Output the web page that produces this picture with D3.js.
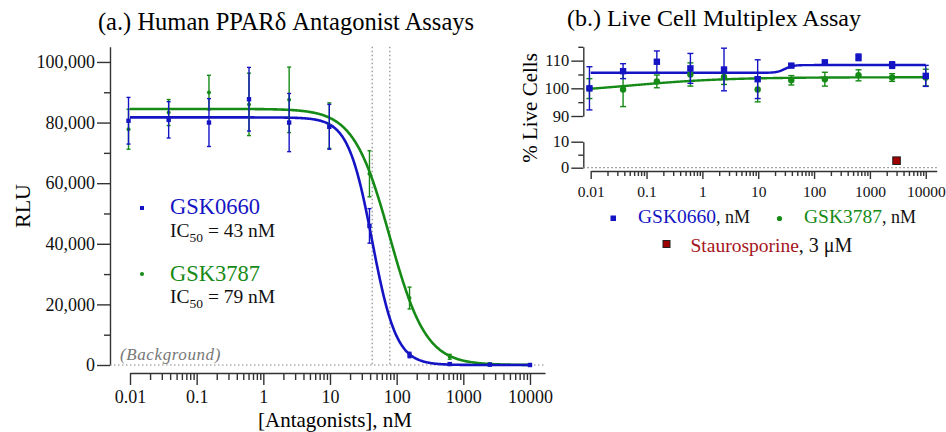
<!DOCTYPE html>
<html>
<head>
<meta charset="utf-8">
<script src="https://cdn.jsdelivr.net/npm/d3@7"></script>
<style>
  body { margin: 0; background: #fff; }
  svg text { font-family: "Liberation Serif", "Times New Roman", Times, serif !important; }
  .axis path, .axis line { stroke: #333; stroke-width: 1.4; }
  .axis text { fill: #111; }
</style>
</head>
<body>
<svg id="chart" width="946" height="432" font-family="Liberation Serif, serif"></svg>
<script>
// concentrations in nM (4-fold dilution series)
const conc = [0.0095, 0.038, 0.153, 0.61, 2.44, 9.77, 39.1, 156, 625, 2500, 10000];

// panel a: luciferase signal (RLU), mean and error
const rlu0660 = [80600, 80900, 80000, 87700, 80000, 78600, 45900, 3300, 300, 100, 0];
const rlu0660Err = [7700, 6000, 7900, 10500, 9600, 7400, 5700, 900, 300, 200, 200];
const rlu3787 = [77800, 83300, 89900, 86000, 87500, 79000, 63100, 22100, 2700, 300, 100];
const rlu3787Err = [6600, 4300, 5700, 10300, 10800, 7500, 7600, 3600, 800, 300, 200];

// fit params: [top, bottom, IC50, hill]
const fit0660 = [81700, 0, 43, 2.4];
const fit3787 = [84500, 0, 79, 1.6];
const ic50Lines = [43, 79];

// panel b: % live cells
const live0660 = [100.0, 106.2, 109.6, 107.2, 106.8, 103.3, 108.2, 109.4, 111.2, 108.4, 104.5];
const live0660Err = [7.8, 2.7, 3.9, 5.4, 7.7, 7.0, 0.5, 0.5, 1.2, 1.2, 3.8];
const live3787 = [99.9, 99.6, 102.5, 105.0, 104.1, 99.6, 102.9, 103.3, 104.7, 103.9, 103.9];
const live3787Err = [3.6, 6.2, 2.3, 4.2, 2.7, 4.5, 1.7, 2.5, 2.0, 1.4, 3.0];
const liveFit0660 = [105.6, 108.4, 30, 6];   // [bottom, top, EC50, hill]
const liveFit3787 = [98, 104, 0.05, 0.5];
const stauroConc = 3000, stauroLive = 2.7;

const xTicks = [0.01, 0.1, 1, 10, 100, 1000, 10000];
const xTickLabels = ["0.01", "0.1", "1", "10", "100", "1000", "10000"];
const yTicksA = [0, 20000, 40000, 60000, 80000, 100000];
const yMinorA = [10000, 30000, 50000, 70000, 90000];

const blue = "#1414c4", green = "#168a16", red = "#a5141c";

const minorX = [];
xTicks.slice(0, -1).forEach(d => { for (let k = 2; k < 10; k++) minorX.push(d * k); });

const svg = d3.select("#chart");

// ---------- panel a ----------
const x = d3.scaleLog().domain([0.01, 16800]).range([130, 545]);
const y = d3.scaleLinear().domain([0, 105000]).range([365, 46.8]);

function inhib(p) { return c => p[1] + (p[0] - p[1]) / (1 + Math.pow(c / p[2], p[3])); }
function stim(p) { return c => p[0] + (p[1] - p[0]) / (1 + Math.pow(p[2] / c, p[3])); }
const xs = d3.range(0, 601).map(i => Math.pow(10, -2 + i * 6 / 600));

svg.append("text").attr("x", 286).attr("y", 30).attr("text-anchor", "middle")
  .style("font-size", "24.5px").text("(a.) Human PPARδ Antagonist Assays");

// y axis
svg.append("g").attr("class", "axis").attr("transform", "translate(110,0)")
  .call(d3.axisLeft(y).tickValues(yTicksA).tickSize(13).tickSizeOuter(0).tickPadding(2)
    .tickFormat(d3.format(",")))
  .selectAll("text").style("font-size", "18px");
svg.append("g").attr("class", "axis").attr("transform", "translate(110,0)")
  .call(d3.axisLeft(y).tickValues(yMinorA).tickSize(6).tickFormat(""))
  .select(".domain").remove();

// x axis
svg.append("g").attr("class", "axis").attr("transform", "translate(0,373)")
  .call(d3.axisBottom(x).tickValues(xTicks).tickSize(12).tickSizeOuter(0).tickPadding(5)
    .tickFormat((d, i) => xTickLabels[i]))
  .selectAll("text").style("font-size", "18px");
svg.append("g").attr("class", "axis").attr("transform", "translate(0,373)")
  .call(d3.axisBottom(x).tickValues(minorX).tickSize(7).tickFormat(""))
  .select(".domain").remove();

svg.append("text").attr("transform", "translate(30,206) rotate(-90)").attr("text-anchor", "middle")
  .style("font-size", "22px").text("RLU");
svg.append("text").attr("x", 335).attr("y", 427).attr("text-anchor", "middle")
  .style("font-size", "21px").text("[Antagonists], nM");

// background & IC50 guide lines
svg.append("line").attr("x1", 110).attr("x2", x.range()[1]).attr("y1", y(0)).attr("y2", y(0))
  .attr("stroke", "#888").attr("stroke-width", 1.2).attr("stroke-dasharray", "1.5,2.5");
svg.append("text").attr("x", 120).attr("y", 360).style("font-size", "17px")
  .style("font-style", "italic").attr("fill", "#777").attr("letter-spacing", "0.6px").text("(Background)");
svg.selectAll(".ic50").data(ic50Lines).enter().append("line")
  .attr("x1", d => x(d)).attr("x2", d => x(d)).attr("y1", y(105000)).attr("y2", y(0))
  .attr("stroke", "#888").attr("stroke-width", 1.2).attr("stroke-dasharray", "1.5,2.5");

const lineA = f => d3.line().x(d => x(d)).y(d => y(f(d)));
svg.append("path").attr("d", lineA(inhib(fit3787))(xs)).attr("fill", "none")
  .attr("stroke", green).attr("stroke-width", 2.6);
svg.append("path").attr("d", lineA(inhib(fit0660))(xs)).attr("fill", "none")
  .attr("stroke", blue).attr("stroke-width", 2.6);

function errBars(g, xsc, ysc, means, errs, color, cap, sw) {
  const grp = g.append("g").attr("stroke", color).attr("stroke-width", sw);
  conc.forEach((c, i) => {
    const cx = xsc(c), top = ysc(means[i] + errs[i]), bot = ysc(means[i] - errs[i]);
    grp.append("line").attr("x1", cx).attr("x2", cx).attr("y1", top).attr("y2", bot);
    grp.append("line").attr("x1", cx - cap).attr("x2", cx + cap).attr("y1", top).attr("y2", top);
    grp.append("line").attr("x1", cx - cap).attr("x2", cx + cap).attr("y1", bot).attr("y2", bot);
  });
}

errBars(svg, x, y, rlu3787, rlu3787Err, green, 2, 1.4);
svg.selectAll(".ptA3787").data(rlu3787).enter().append("circle")
  .attr("cx", (d, i) => x(conc[i])).attr("cy", d => y(d)).attr("r", 2).attr("fill", green);
errBars(svg, x, y, rlu0660, rlu0660Err, blue, 2, 1.4);
svg.selectAll(".ptA0660").data(rlu0660).enter().append("rect")
  .attr("x", (d, i) => x(conc[i]) - 2.2).attr("y", d => y(d) - 2.2)
  .attr("width", 4.4).attr("height", 4.4).attr("fill", blue);

// legend a
svg.append("rect").attr("x", 140).attr("y", 206).attr("width", 4).attr("height", 4).attr("fill", blue);
svg.append("text").attr("x", 170).attr("y", 214).style("font-size", "22.5px").attr("fill", blue).text("GSK0660");
svg.append("circle").attr("cx", 142).attr("cy", 274).attr("r", 2).attr("fill", green);
svg.append("text").attr("x", 170).attr("y", 281).style("font-size", "22.5px").attr("fill", green).text("GSK3787");
[["43", 237], ["79", 303]].forEach(([v, yy]) => {
  const t = svg.append("text").attr("x", 170).attr("y", yy).style("font-size", "19.5px").attr("fill", "#111");
  t.append("tspan").text("IC");
  t.append("tspan").attr("dy", 5).style("font-size", "13.5px").text("50");
  t.append("tspan").attr("dy", -5).text(" = " + v + " nM");
});

// ---------- panel b ----------
const xR = d3.scaleLog().domain([0.01, 15700]).range([590.7, 936.7]);
const yUp = d3.scaleLinear().domain([90, 115]).range([116, 46.8]);
const yLow = d3.scaleLinear().domain([0, 10]).range([167.7, 141.7]);
const axX = 583.3;

svg.append("text").attr("x", 714).attr("y", 26).attr("text-anchor", "middle")
  .style("font-size", "24px").text("(b.) Live Cell Multiplex Assay");

[[yUp, [90, 100, 110], [95, 105, 115]], [yLow, [0, 10], [5]]].forEach(([sc, maj, min]) => {
  svg.append("g").attr("class", "axis").attr("transform", `translate(${axX},0)`)
    .call(d3.axisLeft(sc).tickValues(maj).tickSize(12).tickSizeOuter(0).tickPadding(2))
    .selectAll("text").style("font-size", "16.5px");
  svg.append("g").attr("class", "axis").attr("transform", `translate(${axX},0)`)
    .call(d3.axisLeft(sc).tickValues(min).tickSize(5).tickFormat(""))
    .select(".domain").remove();
});

svg.append("g").attr("class", "axis").attr("transform", "translate(0,171)")
  .call(d3.axisBottom(xR).tickValues(xTicks).tickSize(8).tickSizeOuter(0).tickPadding(7)
    .tickFormat((d, i) => xTickLabels[i]))
  .selectAll("text").style("font-size", "15.5px");
svg.append("g").attr("class", "axis").attr("transform", "translate(0,171)")
  .call(d3.axisBottom(xR).tickValues(minorX).tickSize(5).tickFormat(""))
  .select(".domain").remove();

svg.append("line").attr("x1", axX).attr("x2", xR.range()[1]).attr("y1", yLow(0)).attr("y2", yLow(0))
  .attr("stroke", "#888").attr("stroke-width", 1.2).attr("stroke-dasharray", "1.5,2.5");

svg.append("text").attr("transform", "translate(537,108) rotate(-90)").attr("text-anchor", "middle")
  .style("font-size", "21px").text("% Live Cells");

const lineB = f => d3.line().x(d => xR(d)).y(d => yUp(f(d)));
svg.append("path").attr("d", lineB(stim(liveFit3787))(xs)).attr("fill", "none")
  .attr("stroke", green).attr("stroke-width", 2.4);
svg.append("path").attr("d", lineB(stim(liveFit0660))(xs)).attr("fill", "none")
  .attr("stroke", blue).attr("stroke-width", 2.4);

errBars(svg, xR, yUp, live3787, live3787Err, green, 3, 1.4);
svg.selectAll(".ptB3787").data(live3787).enter().append("circle")
  .attr("cx", (d, i) => xR(conc[i])).attr("cy", d => yUp(d)).attr("r", 3.2).attr("fill", green);
errBars(svg, xR, yUp, live0660, live0660Err, blue, 3, 1.4);
svg.selectAll(".ptB0660").data(live0660).enter().append("rect")
  .attr("x", (d, i) => xR(conc[i]) - 3.2).attr("y", d => yUp(d) - 3.2)
  .attr("width", 6.4).attr("height", 6.4).attr("fill", blue);

svg.append("rect").attr("x", xR(stauroConc) - 3.8).attr("y", yLow(stauroLive) - 3.8)
  .attr("width", 7.6).attr("height", 7.6).attr("fill", "#a00000").attr("stroke", "#222").attr("stroke-width", 1);

// legend b
svg.append("rect").attr("x", 610.5).attr("y", 215.5).attr("width", 5.5).attr("height", 5.5).attr("fill", blue);
const l1 = svg.append("text").attr("x", 638).attr("y", 223).style("font-size", "19.5px");
l1.append("tspan").attr("fill", blue).text("GSK0660");
l1.append("tspan").attr("fill", "#111").style("font-size", "18px").text(", nM");
svg.append("circle").attr("cx", 779.5).attr("cy", 218.5).attr("r", 2.6).attr("fill", green);
const l2 = svg.append("text").attr("x", 804).attr("y", 223).style("font-size", "19.5px");
l2.append("tspan").attr("fill", green).text("GSK3787");
l2.append("tspan").attr("fill", "#111").style("font-size", "18px").text(", nM");
svg.append("rect").attr("x", 663).attr("y", 240.5).attr("width", 7).attr("height", 7)
  .attr("fill", "#a00000").attr("stroke", "#222").attr("stroke-width", 1);
const l3 = svg.append("text").attr("x", 690.5).attr("y", 251.5).style("font-size", "19.5px");
l3.append("tspan").attr("fill", red).text("Staurosporine");
l3.append("tspan").attr("fill", "#111").style("font-size", "20px").text(", 3 μM");
</script>
</body>
</html>
